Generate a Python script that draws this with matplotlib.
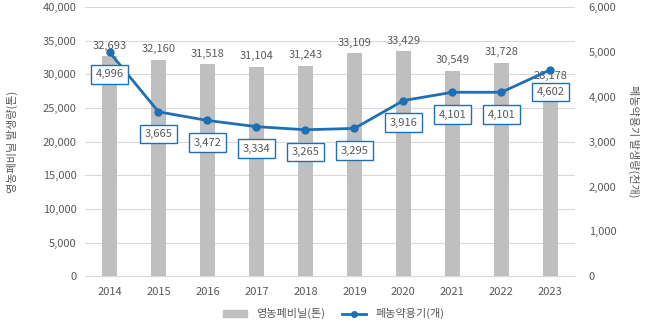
import matplotlib.pyplot as plt
from matplotlib.lines import Line2D
from matplotlib.patches import Patch

plt.rcParams['font.family'] = ['Noto Sans CJK KR', 'DejaVu Sans']

years = ['2014', '2015', '2016', '2017', '2018', '2019', '2020', '2021', '2022', '2023']
vinyl = [32693, 32160, 31518, 31104, 31243, 33109, 33429, 30549, 31728, 28178]
containers = [4996, 3665, 3472, 3334, 3265, 3295, 3916, 4101, 4101, 4602]

bar_color = '#bfbfbf'
line_color = '#1f6fb4'
text_color = '#595959'

fig = plt.figure(figsize=(6.54, 3.23), dpi=100)
ax = fig.add_axes([0.13, 0.145, 0.749, 0.833])
ax2 = ax.twinx()

x = list(range(len(years)))
ax.bar(x, vinyl, width=0.3, color=bar_color, zorder=2)
for xi, v in zip(x, vinyl):
    ax.annotate(f'{v:,}', (xi, v), xytext=(0, 4), textcoords='offset points',
                ha='center', va='bottom', fontsize=8, color=text_color)

ax.set_xlim(-0.5, len(years) - 0.5)
ax.set_ylim(0, 40000)
ax.set_yticks(range(0, 40001, 5000))
ax.set_yticklabels([f'{t:,}' for t in range(0, 40001, 5000)])
ax.set_xticks(x)
ax.set_xticklabels(years)
ax.grid(axis='y', color='#d9d9d9', linewidth=0.8, zorder=0)
ax.set_axisbelow(True)
for s in ax.spines.values():
    s.set_visible(False)
ax.spines['bottom'].set_visible(True)
ax.spines['bottom'].set_color('#d9d9d9')
ax.tick_params(length=0, labelsize=8, colors=text_color, pad=6)
ax.tick_params(axis='x', pad=8)
ax.set_ylabel('영농폐비닐 발생량(톤)', fontsize=8, color=text_color, labelpad=18)

ax2.plot(x, containers, color=line_color, linewidth=2, marker='o', markersize=5, zorder=3)
ax2.set_ylim(0, 6000)
ax2.set_yticks(range(0, 6001, 1000))
ax2.set_yticklabels([f'{t:,}' for t in range(0, 6001, 1000)])
for s in ax2.spines.values():
    s.set_visible(False)
ax2.tick_params(length=0, labelsize=8, colors=text_color, pad=10)
ax2.set_ylabel('폐농약용기 발생량(천개)', fontsize=8, color=text_color, rotation=270, labelpad=16)
for xi, c in zip(x, containers):
    ax2.annotate(f'{c:,}', (xi, c), xytext=(0, -16), textcoords='offset points',
                 ha='center', va='center', fontsize=8, color=text_color, zorder=5,
                 bbox=dict(boxstyle='square,pad=0.4', fc='white', ec=line_color, lw=1))

handles = [Patch(color=bar_color, label='영농폐비닐(톤)'),
           Line2D([0], [0], color=line_color, lw=2, marker='o', markersize=4, label='폐농약용기(개)')]
fig.legend(handles=handles, loc='lower center', bbox_to_anchor=(0.51, -0.02), ncol=2,
           frameon=False, fontsize=8, labelcolor=text_color, handlelength=2.2,
           handleheight=0.5, columnspacing=1.5)

fig.savefig('out.png', dpi=100)
